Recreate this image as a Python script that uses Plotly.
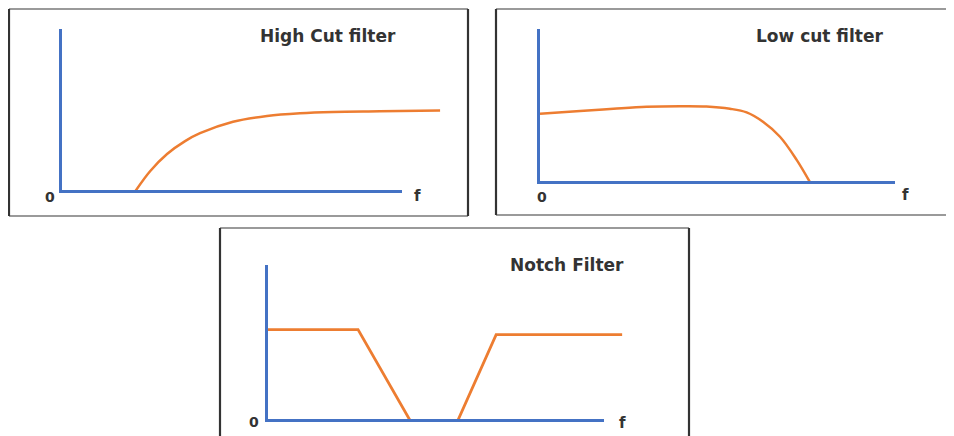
import plotly.graph_objects as go

# ---------------- data (frequency vs gain, arbitrary units) ----------------
high_cut_freq = [2.15, 2.59, 3.09, 3.62, 4.06, 5.03, 6.03, 7.0, 7.97, 9.35, 11.12]
high_cut_gain = [0.0, 1.26, 2.33, 3.13, 3.62, 4.33, 4.69, 4.86, 4.94, 4.98, 5.03]

low_cut_freq = [0.0, 1.13, 2.07, 3.0, 3.94, 4.69, 5.35, 5.82, 6.29, 6.76, 7.23, 7.61]
low_cut_gain = [4.53, 4.70, 4.85, 4.98, 5.02, 5.0, 4.85, 4.61, 3.98, 3.01, 1.49, 0.0]

notch_freq = [0.0, 2.68, 4.23, 5.65, 6.79, 10.54]
notch_gain = [5.9, 5.9, 0.0, 0.0, 5.58, 5.58]

titles = ["High Cut filter", "Low cut filter", "Notch Filter"]
origin_label = "0"
freq_label = "f"

series = [(high_cut_freq, high_cut_gain), (low_cut_freq, low_cut_gain), (notch_freq, notch_gain)]

# ---------------- layout geometry (page pixels) ----------------
OFF = 8                      # default page body margin
W, H = 954 - OFF, 436 - OFF
BLUE = "#4472C4"
ORANGE = "#ED7D31"
TEXT = "#333333"
SIDE = "#333333"
EDGE = "#9a9a9a"
AXW = 3                      # axis line width (px)

panels = [
    dict(box=(9, 9, 468, 216), x0=62, y0=190, xend=402, ytop=29, dend=445, xu=34.0, yu=16.1,
         title=(328, 36), zero=(50, 197), f=(417, 196)),
    dict(box=(496, 9, 990, 215), x0=540, y0=181, xend=895, ytop=29, dend=895, xu=35.5, yu=15.2,
         title=(819, 36), zero=(542, 197), f=(905, 195)),
    dict(box=(220, 228, 689, 480), x0=268, y0=419, xend=604, ytop=265, dend=625, xu=33.6, yu=15.4,
         title=(567, 265), zero=(254, 422), f=(622, 423)),
]

def px(x):
    return (x - OFF) / W

def py(y):
    return 1 - (y - OFF) / H

fig = go.Figure()
layout = dict(width=W, height=H, margin=dict(l=0, r=0, t=0, b=0),
              paper_bgcolor="white", plot_bgcolor="rgba(0,0,0,0)", showlegend=False)
shapes = []
annotations = []

for i, (p, (fx, gy), title) in enumerate(zip(panels, series, titles)):
    n = i + 1
    xid = "x" if n == 1 else f"x{n}"
    yid = "y" if n == 1 else f"y{n}"
    lid = f"x{n + 3}"
    xkey = "xaxis" if n == 1 else f"xaxis{n}"
    ykey = "yaxis" if n == 1 else f"yaxis{n}"
    lkey = f"xaxis{n + 3}"

    line_style = (dict(color=ORANGE, width=2.5, shape="spline", smoothing=1.0)
                  if i < 2 else dict(color=ORANGE, width=2.8))
    fig.add_trace(go.Scatter(x=fx, y=gy, mode="lines", xaxis=xid, yaxis=yid,
                             line=line_style, hoverinfo="skip"))
    # helper (invisible) trace so that the frequency-axis line subplot is drawn
    fig.add_trace(go.Scatter(x=[0], y=[0], mode="lines", xaxis=lid, yaxis=yid,
                             line=dict(color="rgba(0,0,0,0)", width=0), hoverinfo="skip"))

    ylow = (AXW / 2) / p["yu"]           # gain 0 sits on the centre of the axis line
    layout[xkey] = dict(domain=[px(p["x0"]), px(p["dend"])], range=[0, (p["dend"] - p["x0"]) / p["xu"]],
                        anchor=yid, showline=False, showgrid=False, zeroline=False,
                        showticklabels=False, ticks="", fixedrange=True)
    layout[ykey] = dict(domain=[py(p["y0"]), py(p["ytop"])],
                        range=[ylow, (p["y0"] - p["ytop"]) / p["yu"] + ylow],
                        anchor=xid, showline=True, linecolor=BLUE, linewidth=AXW, showgrid=False,
                        zeroline=False, showticklabels=False, ticks="", fixedrange=True)
    layout[lkey] = dict(domain=[px(p["x0"]), px(p["xend"])], range=[0, 1], anchor=yid,
                        showline=True, linecolor=BLUE, linewidth=AXW, showgrid=False, zeroline=False,
                        showticklabels=False, ticks="", fixedrange=True, layer="above traces")

    bx0, by0, bx1, by1 = p["box"]
    for (ax0, ay0, ax1, ay1, col) in [(bx0, by0, bx1, by0, EDGE), (bx0, by1, bx1, by1, EDGE),
                                      (bx0, by0, bx0, by1, SIDE), (bx1, by0, bx1, by1, SIDE)]:
        shapes.append(dict(type="line", xref="paper", yref="paper", x0=px(ax0), x1=px(ax1),
                           y0=py(ay0), y1=py(ay1), line=dict(color=col, width=2.2), layer="below"))

    annotations.append(dict(text=title, x=px(p["title"][0]), y=py(p["title"][1]), xref="paper",
                            yref="paper", showarrow=False, xanchor="center", yanchor="middle",
                            font=dict(family="DejaVu Sans", size=17, color=TEXT, weight="bold")))
    annotations.append(dict(text=origin_label, x=px(p["zero"][0]), y=py(p["zero"][1]), xref="paper",
                            yref="paper", showarrow=False, xanchor="center", yanchor="middle",
                            font=dict(family="DejaVu Sans", size=14, color=TEXT, weight="bold")))
    annotations.append(dict(text=freq_label, x=px(p["f"][0]), y=py(p["f"][1]), xref="paper",
                            yref="paper", showarrow=False, xanchor="center", yanchor="middle",
                            font=dict(family="DejaVu Sans", size=15, color=TEXT, weight="bold")))

layout["shapes"] = shapes
layout["annotations"] = annotations
fig.update_layout(**layout)
fig.write_html("out.html")
